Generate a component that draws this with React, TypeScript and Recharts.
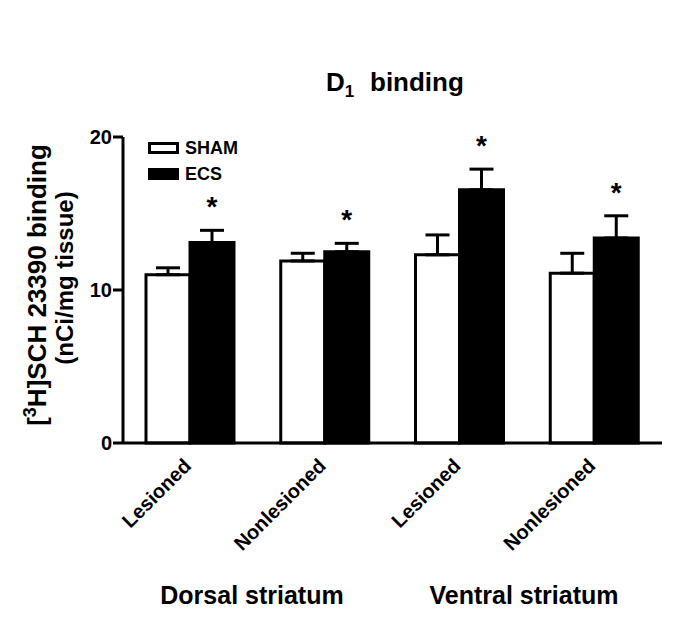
import { BarChart, Bar, XAxis, YAxis, ErrorBar, LabelList, Legend } from 'recharts';

const FONT = '"Liberation Sans", Arial, sans-serif';

const categories = ['Lesioned', 'Nonlesioned', 'Lesioned', 'Nonlesioned'];
const regions = ['Dorsal striatum', 'Ventral striatum'];
const shamMean = [11.0, 11.9, 12.3, 11.1];
const shamSem = [0.45, 0.5, 1.3, 1.3];
const ecsMean = [13.1, 12.5, 16.55, 13.4];
const ecsSem = [0.8, 0.55, 1.35, 1.45];
const ecsSignificant = [true, true, true, true];
const yTicks = [0, 10, 20];

const data = categories.map((name, i) => ({
  id: i,
  name,
  sham: shamMean[i],
  shamErr: [0, shamSem[i]],
  ecs: ecsMean[i],
  ecsErr: [0, ecsSem[i]],
}));

const CategoryTick = (props: any) => {
  const { x, y, payload } = props;
  return (
    <g transform={`translate(${x + 2},${y + 16})`}>
      <text
        textAnchor="end"
        transform="rotate(-45)"
        fontFamily={FONT}
        fontWeight="bold"
        fontSize={20}
        fill="#000"
      >
        {categories[payload.value]}
      </text>
    </g>
  );
};

// asterisk sits above the top of the ECS error bar
const Star = (props: any) => {
  const { x, y, width, height, index } = props;
  if (!ecsSignificant[index]) return null;
  const perUnit = height / ecsMean[index];
  const top = y - ecsSem[index] * perUnit;
  return (
    <text
      x={x + width / 2}
      y={top - 14}
      textAnchor="middle"
      fontFamily={FONT}
      fontWeight="bold"
      fontSize={28}
      fill="#000"
    >
      *
    </text>
  );
};

const LegendBox = () => (
  <div style={{ fontFamily: FONT, fontWeight: 'bold', fontSize: 18, lineHeight: '18px' }}>
    {[
      { label: 'SHAM', fill: '#fff' },
      { label: 'ECS', fill: '#000' },
    ].map((item) => (
      <div key={item.label} style={{ display: 'flex', alignItems: 'center', height: 26 }}>
        <div
          style={{
            width: 25,
            height: 6,
            border: '3px solid #000',
            background: item.fill,
            marginRight: 6,
          }}
        />
        <span>{item.label}</span>
      </div>
    ))}
  </div>
);

export default function App() {
  return (
    <div style={{ position: 'absolute', left: 0, top: 0, width: 700, height: 625, background: '#fff' }}>
      <BarChart
        width={700}
        height={625}
        data={data}
        barSize={44}
        barGap={0}
        margin={{ top: 137, right: 38, left: 0, bottom: 0 }}
      >
        <XAxis
          dataKey="id"
          type="category"
          height={182}
          axisLine={{ stroke: '#000', strokeWidth: 3 }}
          tickLine={false}
          tick={<CategoryTick />}
          interval={0}
        />
        <YAxis
          width={123}
          domain={[0, 20]}
          ticks={yTicks}
          axisLine={{ stroke: '#000', strokeWidth: 3 }}
          tickLine={{ stroke: '#000', strokeWidth: 3 }}
          tickSize={10}
          tickMargin={1}
          tick={{ fontFamily: FONT, fontWeight: 'bold', fontSize: 20, fill: '#000' }}
        />
        <Legend
          layout="vertical"
          align="center"
          verticalAlign="middle"
          wrapperStyle={{ left: 148, top: 135, width: 120 }}
          content={() => <LegendBox />}
        />
        <Bar dataKey="sham" fill="#fff" stroke="#000" strokeWidth={3} isAnimationActive={false}>
          <ErrorBar dataKey="shamErr" direction="y" width={12} stroke="#000" strokeWidth={3} isAnimationActive={false} />
        </Bar>
        <Bar dataKey="ecs" fill="#000" stroke="#000" strokeWidth={3} isAnimationActive={false}>
          <ErrorBar dataKey="ecsErr" direction="y" width={12} stroke="#000" strokeWidth={3} isAnimationActive={false} />
          <LabelList dataKey="ecs" content={<Star />} />
        </Bar>
      </BarChart>
      <svg
        width={700}
        height={625}
        style={{ position: 'absolute', left: 0, top: 0, pointerEvents: 'none' }}
        fontFamily={FONT}
        fontWeight="bold"
        fill="#000"
      >
        <text x={326} y={91} fontSize={26}>
          D<tspan fontSize={17} dy={6}>1</tspan>
        </text>
        <text x={370} y={91} fontSize={26}>
          binding
        </text>
        <text transform="translate(46,285) rotate(-90)" textAnchor="middle" fontSize={26}>
          [<tspan fontSize={18} dy={-10}>3</tspan>
          <tspan dy={10}>H]SCH 23390 binding</tspan>
        </text>
        <text transform="translate(73,278) rotate(-90)" textAnchor="middle" fontSize={24}>
          (nCi/mg tissue)
        </text>
        <text x={252} y={604} textAnchor="middle" fontSize={25}>
          {regions[0]}
        </text>
        <text x={524} y={604} textAnchor="middle" fontSize={25}>
          {regions[1]}
        </text>
      </svg>
    </div>
  );
}
